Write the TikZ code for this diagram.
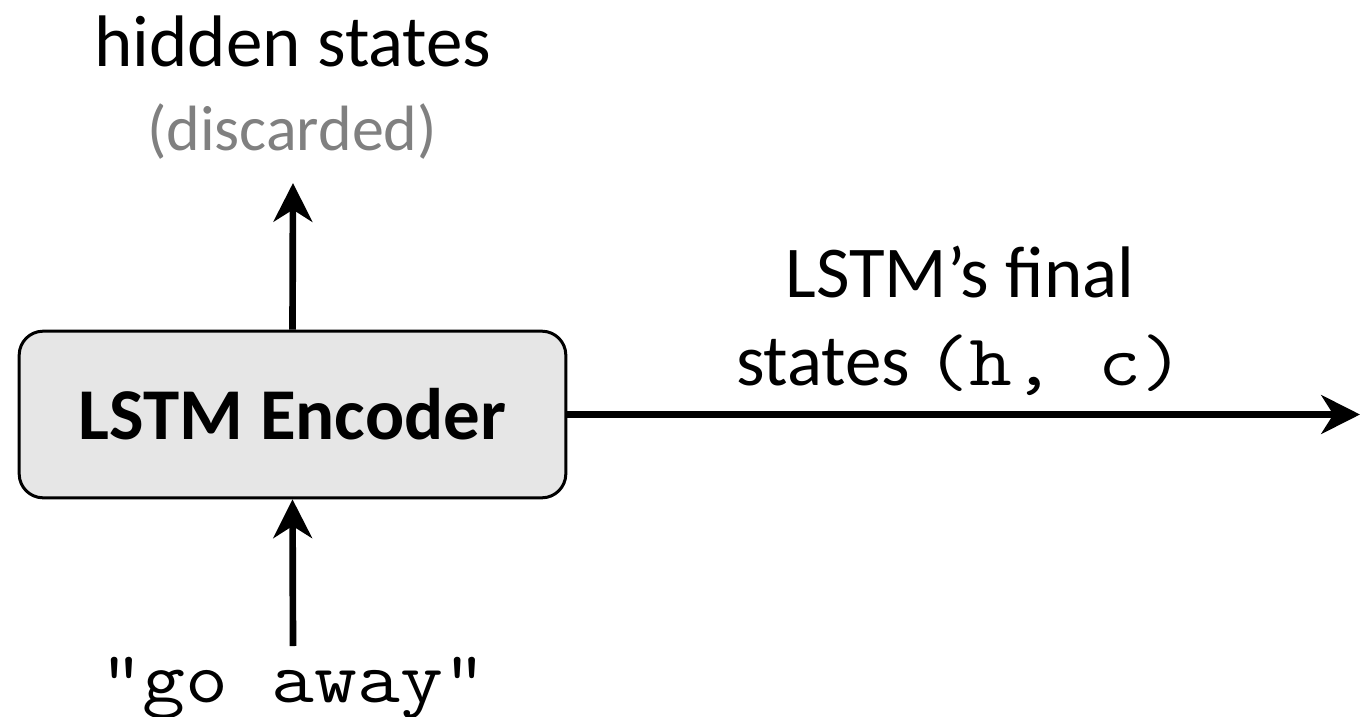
\documentclass[tikz,border=0pt]{standalone}
\usepackage{fontspec}
\setmainfont{Carlito}
\setmonofont{Latin Modern Mono}[FakeStretch=1.14]
\usepackage{xcolor}
\usetikzlibrary{arrows.meta}

\definecolor{boxgray}{HTML}{E6E6E6}
\definecolor{notegray}{HTML}{808080}

\tikzset{
  encbox/.style={draw=black, line width=2.25pt, fill=boxgray, rounded corners=18pt,
    minimum width=410pt, minimum height=125pt, inner sep=0pt},
  bigtext/.style={inner sep=0pt, font=\fontsize{54.75}{66}\selectfont},
  arr/.style={line width=5pt, -{Stealth[length=29pt, width=29pt, inset=9pt]}}
}

\begin{document}
\begin{tikzpicture}[x=0.75pt,y=0.75pt,yscale=-1,xscale=1]
        \useasboundingbox (0,0) rectangle (1360,717);

        % Encoder box
        \node [encbox, bigtext] (enc) at (292.5,414.5) {\bfseries LSTM Encoder};

        % Text Node
        \node [bigtext, anchor=base] (hid) at (293,67) {hidden states};
        % Text Node
        \node [bigtext, anchor=base, text=notegray, font=\fontsize{48}{58}\selectfont] (disc) at (292,150) {(discarded)};
        % Text Node
        \node [bigtext, anchor=base, font=\fontsize{54.75}{66}\ttfamily] (src) at (293,702) {"go away"};
        % Text Node
        \node [bigtext, align=center, anchor=base] (fin) at (960,385) {LSTM's final\\states \texttt{(h, c)}};

        \coordinate (up) at (293,183);
        \coordinate (out) at (1360,414.5);

        % Straight Lines
        \draw [arr] (enc.north) -- (up);
        \draw [arr] (src.north |- 0,646) -- (enc.south);
        \draw [arr] (enc.east) -- (out);

\end{tikzpicture}
\end{document}
